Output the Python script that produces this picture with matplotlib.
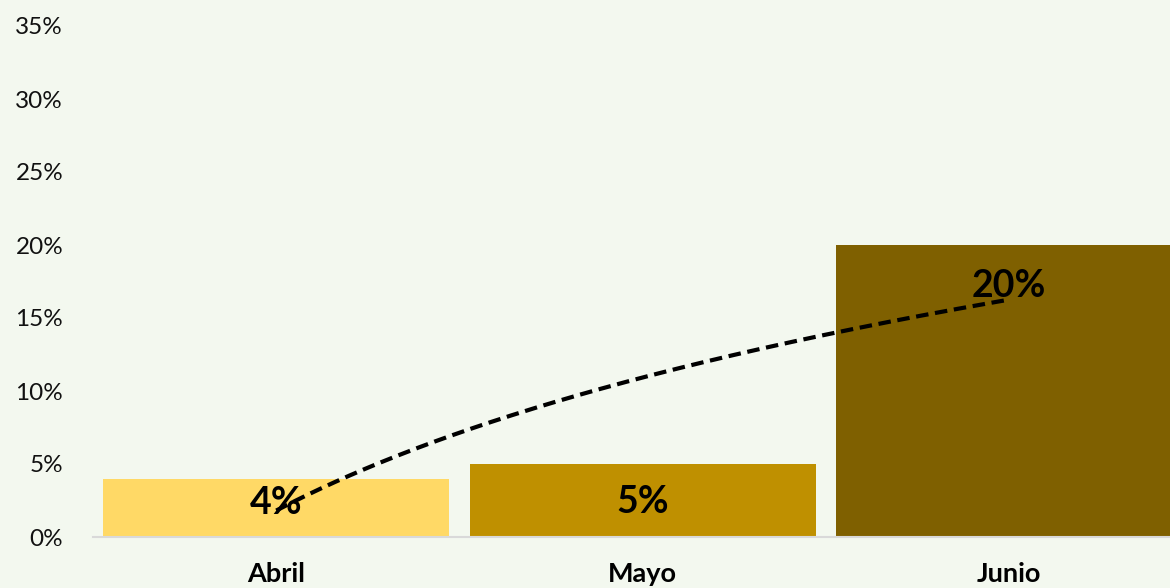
import numpy as np
import matplotlib
matplotlib.use("Agg")
import matplotlib.pyplot as plt
from matplotlib.ticker import FuncFormatter

categories = ["Abril", "Mayo", "Junio"]
values = [4, 5, 20]
bar_colors = ["#FFD966", "#BF9000", "#7F6000"]
yticks = [0, 5, 10, 15, 20, 25, 30, 35]

bg = "#F3F8EF"
plt.rcParams['font.family'] = ['Lato', 'DejaVu Sans']

fig = plt.figure(figsize=(11.7, 5.88), dpi=100, facecolor=bg)
W, H = 1170, 588
left, right, top, bottom = 93, 1192.5, 26, 537
ax = fig.add_axes([left / W, (H - bottom) / H, (right - left) / W, (bottom - top) / H])
ax.set_facecolor(bg)

x = np.arange(len(categories))
ax.bar(x, values, width=0.945, color=bar_colors, zorder=2)

# logarithmic trendline (Excel-style) fitted on the data
lx = np.log(x + 1)
b, a = np.polyfit(lx, values, 1)
xs = np.linspace(0, 2, 200)
ax.plot(xs, a + b * np.log(xs + 1), color="black", lw=3, ls=(0, (3, 1.6)), zorder=3)

label_y = [2.3, 2.4, 17.2]
for xi, v, ly in zip(x, values, label_y):
    ax.text(xi, ly, f"{v}%", ha="center", va="center", fontsize=27,
            fontweight="bold", color="black", zorder=4)

ax.set_xlim(-0.5, 2.5)
ax.set_ylim(0, 35)
ax.set_yticks(yticks)
ax.yaxis.set_major_formatter(FuncFormatter(lambda v, p: f"{v:.0f}%"))
ax.set_xticks(x)
ax.set_xticklabels(categories, fontsize=19.5, fontweight="bold")
ax.tick_params(axis="y", length=0, labelsize=17.5, pad=21.5, labelcolor="#111111")
ax.tick_params(axis="x", length=0, pad=18)
for s in ["top", "right", "left"]:
    ax.spines[s].set_visible(False)
ax.spines["bottom"].set_color("#D9D9D9")
ax.spines["bottom"].set_linewidth(1.5)

fig.savefig("out.png", dpi=100, facecolor=bg)
